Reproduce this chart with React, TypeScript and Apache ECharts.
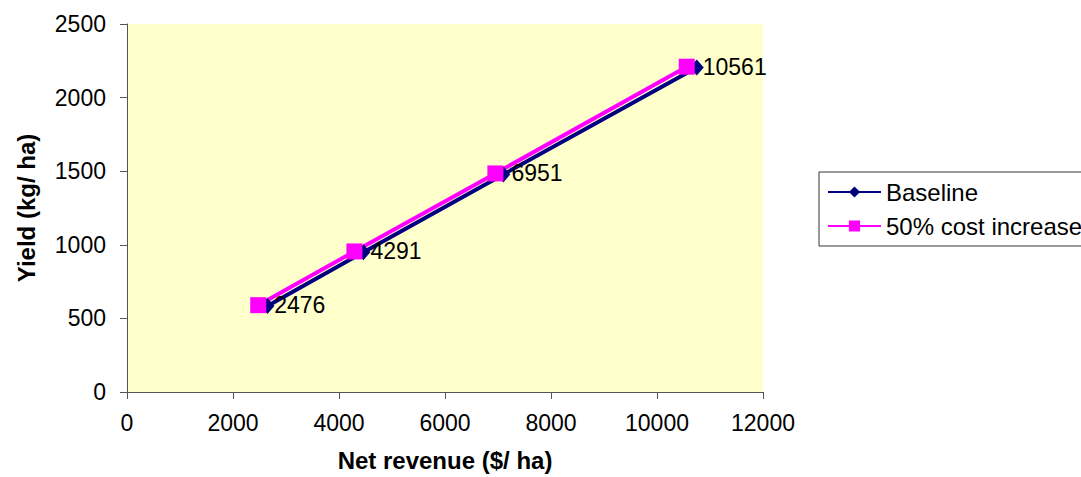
import React, { useEffect, useRef } from "react";
import * as echarts from "echarts";

const seriesNames = ["Baseline", "50% cost increase"];
const baselineRevenue = [2650, 4460, 7100, 10750];
const baselineYield = [585, 950, 1478, 2205];
const costRevenue = [2476, 4291, 6951, 10561];
const costYield = [590, 955, 1485, 2210];
const xTicks = { min: 0, max: 12000, interval: 2000 };
const yTicks = { min: 0, max: 2500, interval: 500 };

const FONT = "'Liberation Sans', Arial, sans-serif";

export default function App() {
  const ref = useRef<HTMLDivElement>(null);
  useEffect(() => {
    document.body.style.margin = "0";
    if (!ref.current) return;
    const chart = echarts.init(ref.current, null, { renderer: "svg" });
    const axisCommon = {
      axisLine: { show: true, lineStyle: { color: "#555", width: 1 } },
      axisTick: { show: true, inside: false, length: 7, lineStyle: { color: "#555" } },
      splitLine: { show: false },
      nameTextStyle: { fontFamily: FONT, fontWeight: "bold", fontSize: 24, color: "#000" },
    };
    const labelCommon = {
      fontFamily: FONT,
      fontSize: 23,
      color: "#000",
      formatter: (v: number) => String(v),
    };
    chart.setOption({
      animation: false,
      textStyle: { fontFamily: FONT },
      grid: {
        left: 127,
        right: 318,
        top: 24,
        bottom: 84.5,
        show: true,
        backgroundColor: "#FFFFCC",
        borderWidth: 0,
      },
      legend: {
        left: 819,
        top: 172,
        orient: "vertical",
        padding: [8, 8, 8, 8],
        itemGap: 10,
        itemWidth: 53,
        itemHeight: 14,
        borderColor: "#333",
        borderWidth: 1,
        textStyle: { fontFamily: FONT, fontSize: 24, color: "#000" },
        data: seriesNames,
      },
      xAxis: {
        type: "value",
        ...xTicks,
        ...axisCommon,
        name: "Net revenue ($/ ha)",
        nameLocation: "middle",
        nameGap: 56,
        axisLabel: { ...labelCommon, margin: 19 },
      },
      yAxis: {
        type: "value",
        ...yTicks,
        ...axisCommon,
        name: "Yield (kg/ ha)",
        nameLocation: "middle",
        nameGap: 89,
        axisLabel: { ...labelCommon, margin: 21 },
      },
      series: [
        {
          name: seriesNames[0],
          type: "line",
          data: baselineRevenue.map((x, i) => [x, baselineYield[i]]),
          symbol: "diamond",
          symbolSize: [14, 16],
          lineStyle: { color: "#000080", width: 4 },
          itemStyle: { color: "#000080" },
        },
        {
          name: seriesNames[1],
          type: "line",
          data: costRevenue.map((x, i) => [x, costYield[i]]),
          symbol: "rect",
          symbolSize: 16,
          lineStyle: { color: "#FF00FF", width: 4 },
          itemStyle: { color: "#FF00FF" },
          label: {
            show: true,
            position: "right",
            distance: 8,
            fontFamily: FONT,
            fontSize: 23,
            color: "#000",
            formatter: (p: any) => String(p.value[0]),
          },
        },
      ],
    });
    return () => chart.dispose();
  }, []);
  return <div ref={ref} style={{ width: 1081, height: 477 }} />;
}
